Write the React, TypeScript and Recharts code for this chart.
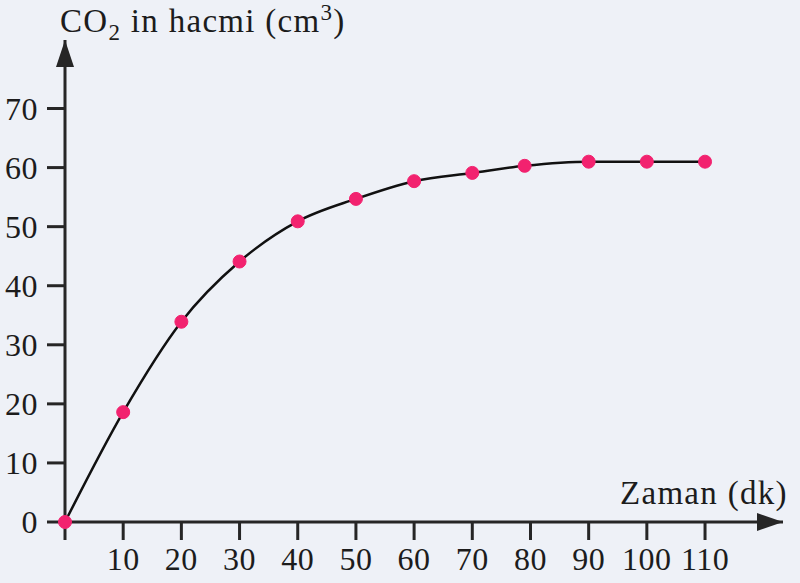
import React from "react";
import { LineChart, Line, XAxis, YAxis, ReferenceDot } from "recharts";

// time in minutes and CO2 volume in cm3
const zaman = [0, 10, 20, 30, 40, 50, 60, 70, 79, 90, 100, 110];
const hacim = [0, 18.6, 33.9, 44.1, 50.9, 54.7, 57.7, 59.1, 60.3, 61, 61, 61];
const xTicks = [0, 10, 20, 30, 40, 50, 60, 70, 80, 90, 100, 110];
const yTicks = [0, 10, 20, 30, 40, 50, 60, 70];

const data = zaman.map((t, i) => ({ t, v: hacim[i] }));

const X_MAX = 123.4;
const Y_MAX = 81.6;
const INK = "#262626";
const PINK = "#f2226f";
const FONT = "'Liberation Serif', 'DejaVu Serif', serif";

const UpArrow = (props: any) => {
    const { cx, cy } = props;
    return <polygon points={`${cx},${cy} ${cx - 9},${cy + 27} ${cx + 9},${cy + 27}`} fill={INK} />;
};

const RightArrow = (props: any) => {
    const { cx, cy } = props;
    return <polygon points={`${cx},${cy} ${cx - 26},${cy - 9} ${cx - 26},${cy + 9}`} fill={INK} />;
};

export default function App() {
    const tickStyle = { fill: "#1c1c1c", fontSize: 32, fontFamily: FONT, letterSpacing: 0.5 };
    const titleStyle: React.CSSProperties = {
        position: "absolute",
        fontSize: 33,
        lineHeight: "36px",
        letterSpacing: 1.3,
        color: "#1c1c1c",
        whiteSpace: "nowrap",
        fontFamily: FONT,
    };
    return (
        <div style={{ position: "fixed", left: 0, top: 0, width: 800, height: 583, background: "#eef1f7", fontFamily: FONT }}>
            <LineChart width={800} height={583} data={data} margin={{ top: 40, right: 17, bottom: 0, left: 0 }}>
                <XAxis
                    dataKey="t"
                    type="number"
                    domain={[0, X_MAX]}
                    ticks={xTicks}
                    tickFormatter={(v) => (v === 0 ? "" : String(v))}
                    height={61}
                    axisLine={{ stroke: INK, strokeWidth: 3 }}
                    tickLine={{ stroke: INK, strokeWidth: 3 }}
                    tickSize={18}
                    tickMargin={7}
                    tick={tickStyle}
                />
                <YAxis
                    type="number"
                    domain={[0, Y_MAX]}
                    ticks={yTicks}
                    width={65}
                    axisLine={{ stroke: INK, strokeWidth: 3 }}
                    tickLine={{ stroke: INK, strokeWidth: 3 }}
                    tickSize={18}
                    tickMargin={9}
                    tick={tickStyle}
                />
                <ReferenceDot x={0} y={Y_MAX} r={0} shape={UpArrow} ifOverflow="visible" />
                <ReferenceDot x={X_MAX} y={0} r={0} shape={RightArrow} ifOverflow="visible" />
                <Line
                    type="monotone"
                    dataKey="v"
                    stroke="#111"
                    strokeWidth={2.5}
                    dot={{ r: 6.5, fill: PINK, stroke: PINK, strokeWidth: 1 }}
                    isAnimationActive={false}
                />
            </LineChart>
            <div style={{ ...titleStyle, left: 60, top: 3 }}>
                CO<sub style={{ fontSize: 23, lineHeight: 0 }}>2</sub> in hacmi (cm
                <sup style={{ fontSize: 23, lineHeight: 0 }}>3</sup>)
            </div>
            <div style={{ ...titleStyle, left: 620, top: 475 }}>Zaman (dk)</div>
        </div>
    );
}
